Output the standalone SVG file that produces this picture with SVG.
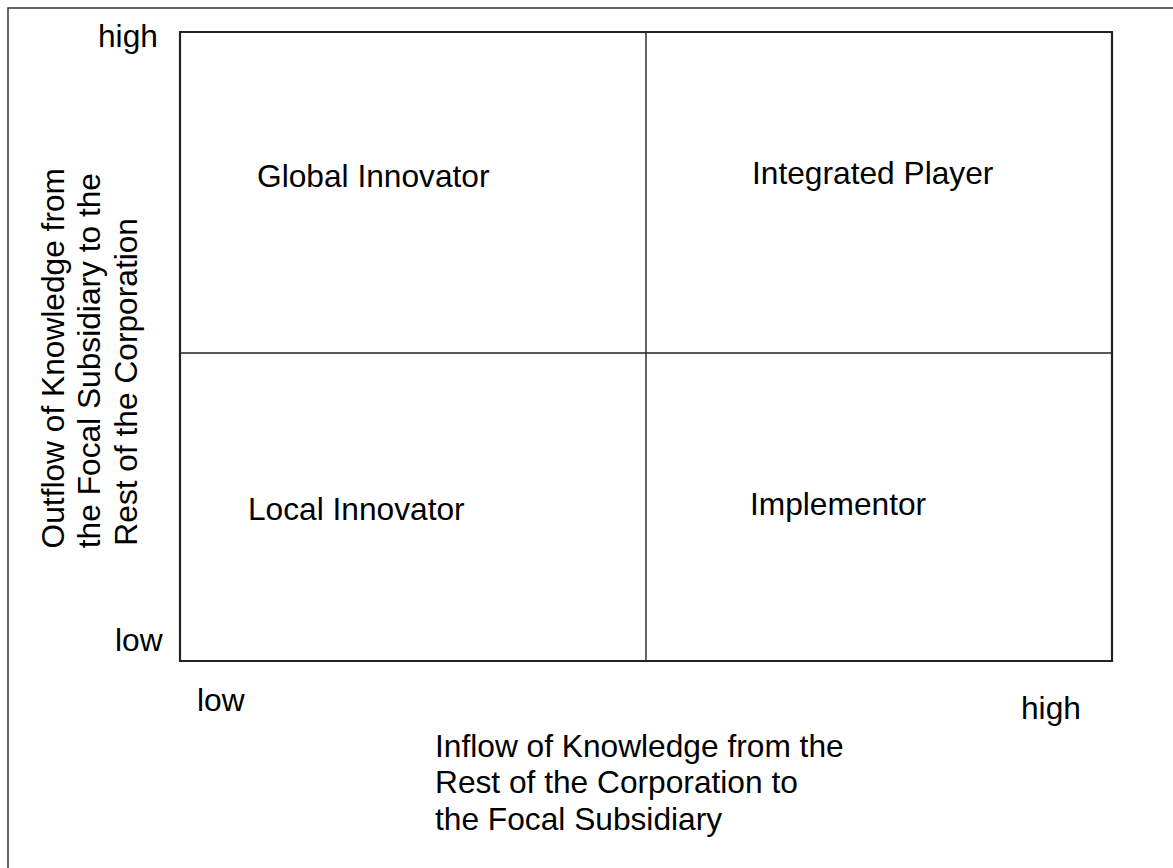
<svg xmlns="http://www.w3.org/2000/svg" width="1173" height="868" viewBox="0 0 1173 868">
<style>
text{font-family:"Liberation Sans",Arial,sans-serif;font-size:31.7px;fill:#000}
.frame{fill:none;stroke:#222;stroke-width:2.2}
.div{stroke:#222;stroke-width:1.4;fill:none}
.border{stroke:#333;stroke-width:1.5;fill:none}
</style>
<rect width="1173" height="868" fill="#fff"/>
<path class="border" d="M8,868 V8 H1173"/>
<g id="matrix">
<path class="frame" d="M180,661 V32 H1112 V661 Z"/>
</g>
<g id="connectors">
<line class="div" x1="646" y1="32" x2="646" y2="661"/>
<line class="div" x1="180" y1="353" x2="1112" y2="353"/>
</g>
<g id="global-innovator"><text x="257" y="187">Global Innovator</text></g>
<g id="integrated-player"><text x="752" y="184">Integrated Player</text></g>
<g id="local-innovator"><text x="248" y="520">Local Innovator</text></g>
<g id="implementor"><text x="750" y="515">Implementor</text></g>
<g id="axis-labels">
<text x="98" y="47">high</text>
<text x="115" y="651">low</text>
<text x="197" y="711">low</text>
<text x="1021" y="719">high</text>
</g>
<g id="x-title">
<text x="435" y="757">Inflow of Knowledge from the</text>
<text x="435" y="793">Rest of the Corporation to</text>
<text x="435" y="830">the Focal Subsidiary</text>
</g>
<g id="y-title" text-anchor="end">
<text transform="translate(64,168) rotate(-90)">Outflow of Knowledge from</text>
<text transform="translate(100,173) rotate(-90)">the Focal Subsidiary to the</text>
<text transform="translate(137,218) rotate(-90)">Rest of the  Corporation</text>
</g>
</svg>
